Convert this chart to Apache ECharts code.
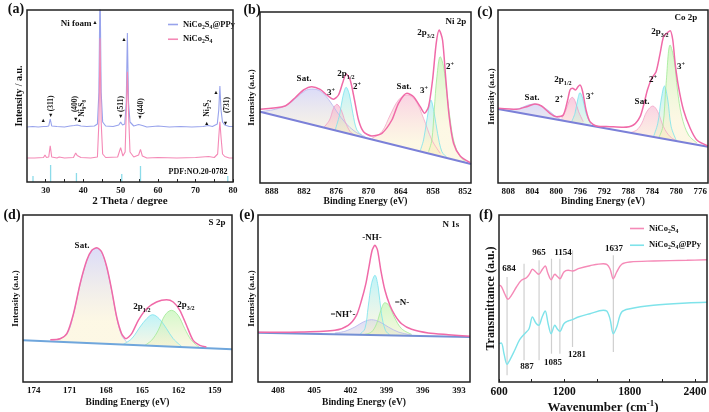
<!DOCTYPE html>
<html>
<head>
<meta charset="utf-8">
<script src="https://cdn.jsdelivr.net/npm/echarts@6/dist/echarts.min.js"></script>
<style>
  html, body { margin: 0; padding: 0; background: #fff; }
  #chart { width: 709px; height: 412px; }
</style>
</head>
<body>
<div id="chart"></div>
<script>
// ---- (a) XRD ----
const xrdPPy = [[25,55],[26.5,55.5],[28,55],[29.4,55.5],[29.8,57.5],[30.2,55.5],[30.8,56],[31.2,63],[31.6,56],[33,55.5],[35,55],[36.5,56],[37.6,56.5],[38,58],[38.4,57],[38.9,58],[39.4,56],[41,55.5],[43,56],[43.8,58],[44.2,90],[44.5,200],[44.8,90],[45.2,60],[46,56],[48,55.5],[49.5,57],[50,60],[50.5,57],[51.1,58],[51.5,80],[51.8,149],[52.1,80],[52.5,60],[53.5,56],[54.8,57.5],[55.3,59],[55.8,56.5],[57,55],[60,56],[63,55],[66,55.5],[69,55],[72,55.5],[73.4,56.5],[74.5,55.5],[75.8,58],[76.2,72],[76.5,96],[76.8,72],[77.2,60],[77.8,57],[79,55.5],[80,55.5]];
const xrdNCO = [[25,24],[27,24],[29.4,24.5],[29.8,27],[30.2,24.5],[30.8,25],[31.2,36.3],[31.6,25],[33,24],[33.6,25],[35,24],[37.4,24.5],[38,29],[38.4,26.5],[38.9,28],[39.4,24.5],[42,24],[43.8,25],[44.2,60],[44.5,143.7],[44.8,60],[45.2,28],[46,24.5],[49.2,25],[50,34.3],[50.6,26],[51.2,30],[51.5,70],[51.8,110.3],[52.1,70],[52.5,30],[53.5,25],[54.8,27],[55.3,32.7],[55.8,26],[57,24],[60,24.5],[65,24],[70,24.5],[73.5,25.5],[75,24.5],[75.9,28],[76.2,45],[76.5,60.3],[76.8,45],[77.2,28],[77.8,25.5],[79,24],[80,24]];
const pdfPos = [26.6, 31.3, 38.2, 50.3, 55.3, 78.6];
const pdfH = [6, 17, 9, 8, 16, 6];
const aLabels = [30, 40, 50, 60, 70, 80];
const aTicks = [30, 35, 40, 45, 50, 55, 60, 65, 70, 75, 80];

// ---- (b) Ni 2p ----
const niEnv = [[890.17,73.7],[885.52,77],[883.65,85.3],[882.10,93],[880.55,96.3],[879.0,93.7],[877.75,88],[876.51,83.7],[875.58,88],[874.83,99.7],[874.15,109],[873.40,103],[872.60,83],[871.85,63],[870.92,51.3],[869.37,47],[867.50,49.7],[865.64,63],[864.40,79.7],[862.84,89.7],[861.60,86.3],[860.36,76.3],[859.55,69.7],[858.81,76.3],[858.06,103],[857.38,139.7],[856.82,153],[856.20,143],[855.58,103],[854.96,66.3],[854.15,39.7],[852.91,27],[851.04,20.3]];
const niBase = [[890.2,71.3],[850.9,19]];
const niSatL = [[890.17,71.3],[887.38,73.7],[885.20,78],[883.34,85.7],[881.79,92.3],[880.55,94],[879.0,92],[877.44,83.7],[875.89,71.3],[874.33,60.3],[872.47,51.3],[870.6,46.3]];
const ni3L = [[878.37,55.3],[877.25,63],[876.51,74.7],[875.89,78.7],[875.08,73],[874.33,61.3],[873.40,51.3],[872.6,48]];
const ni2L = [[876.2,53],[875.39,68],[874.77,86.3],[874.15,95.7],[873.53,88],[872.91,69.7],[872.16,53],[871.23,48]];
const niSatR = [[869.37,44.7],[867.50,51.3],[865.95,68],[864.40,83],[862.84,88],[861.29,83],[859.74,64.7],[858.19,43],[856.63,29.7]];
const ni3R = [[860.36,32.3],[859.74,43],[859.12,63],[858.37,83],[857.75,69.7],[857.13,49.7],[856.32,31.3],[855.39,25.7]];
const ni2R = [[858.81,31.3],[858.19,43],[857.75,73],[857.25,106.3],[856.63,126.3],[856.01,116.3],[855.39,89.7],[854.77,63],[854.15,43],[853.22,29],[851.98,21.3]];
const bLabels = [888, 882, 876, 870, 864, 858, 852];
const bTicks = [888,885,882,879,876,873,870,867,864,861,858,855,852];

// ---- (c) Co 2p ----
const coEnv = [[809.67,74.7],[806.6,73.7],[804.94,76.3],[803.55,79],[802.44,77],[801.04,69.7],[799.93,66.3],[798.82,68],[798.09,83],[797.7,93],[797.26,94.7],[796.8,93],[796.37,96.3],[796.03,98],[795.59,91.3],[795.03,73],[794.37,61.3],[793.25,57],[791.03,56.3],[788.8,55.7],[787.13,58],[786.02,66.3],[785.35,79.7],[784.8,93],[784.07,104.7],[783.35,111.3],[782.68,129.7],[782.12,146.3],[781.57,149.7],[781.01,152.3],[780.57,143],[780.18,119.7],[779.62,96.3],[778.79,73],[777.67,54.7],[776.56,43],[774.7,37]];
const coBase = [[809.7,74],[774.7,36.3]];
const coSatL = [[807.72,73],[806.05,74.7],[804.66,78],[803.55,79],[802.44,77],[801.04,71.3],[799.65,64.7],[798.54,62.3]];
const co2L = [[799.1,64.7],[798.37,73],[797.82,82.3],[797.32,85.7],[796.81,81.3],[796.26,71.3],[795.48,61.3]];
const co3L = [[797.43,61.3],[796.87,69.7],[796.43,83],[796.03,90.3],[795.59,84.7],[795.03,69.7],[794.25,59]];
const coSatR = [[787.69,50.3],[786.58,53],[785.74,59.7],[784.91,71.3],[783.9,77],[783.07,71.3],[782.12,56.3],[781.01,46.3],[779.62,41.3]];
const co2R = [[783.79,46.3],[783.07,59.7],[782.51,83],[781.96,97],[781.4,83],[780.84,56.3],[780.01,43]];
const co3R = [[782.96,44.7],[782.23,56.3],[781.68,99.7],[781.01,138],[780.34,123],[779.79,93],[779.06,66.3],[777.95,48],[776.56,40.3]];
const cLabels = [808, 804, 800, 796, 792, 788, 784, 780, 776];
const cTicks = [808,806,804,802,800,798,796,794,792,790,788,786,784,782,780,778,776];

// ---- (d) S 2p ----
const sEnv = [[172.62,42.3],[171.80,43.3],[171.25,48.3],[170.70,68.3],[170.15,98.3],[169.60,121.7],[169.18,131.7],[168.77,134.3],[168.36,130],[167.94,115],[167.53,91.7],[167.12,65],[166.71,48.3],[166.35,43.3],[165.88,48.3],[165.33,61.7],[164.64,73.3],[163.82,80],[162.99,82.3],[162.44,80],[161.89,71.7],[161.34,56.7],[160.79,41.7],[160.24,36.7],[159.69,35]];
const sBase = [[174.88,41.7],[157.57,32.7]];
const sSat = [[172.07,42.3],[171.25,47.7],[170.70,67.7],[170.15,97.7],[169.60,121],[169.18,131],[168.77,133.7],[168.36,129.3],[167.94,114.3],[167.53,91],[167.12,64.3],[166.71,46.7],[166.29,40]];
const s12 = [[166.57,37.7],[165.88,43.3],[165.19,55],[164.64,63.3],[164.15,67.3],[163.6,63.3],[162.99,53.3],[162.44,43.3],[161.75,35.7]];
const s32 = [[164.92,35.7],[164.23,41.7],[163.68,51.7],[163.13,66.7],[162.58,71.7],[162.03,66.7],[161.48,53.3],[160.93,41.7],[160.24,34.3]];
const dLabels = [174, 171, 168, 165, 162, 159];
const dTicks = [174,172.5,171,169.5,168,166.5,165,163.5,162,160.5,159];

// ---- (e) N 1s ----
const nEnv = [[409.66,49.7],[406.06,50],[403.29,51.7],[402.19,56.7],[401.5,66.7],[401.08,81.7],[400.72,98.3],[400.44,116.7],[400.2,131.7],[399.97,136.7],[399.75,131.7],[399.48,111.7],[399.14,91.7],[398.73,76.7],[398.31,66.7],[397.76,58.3],[396.93,52.7],[395.55,49],[393.88,47.3],[392.09,45.7]];
const nBase = [[409.66,49.3],[392.09,45]];
const nNHp = [[403.29,49],[402.46,50.7],[401.63,55],[400.94,60],[400.25,62.3],[399.56,60],[398.86,55],[398.03,50],[396.93,47]];
const nNH = [[401.22,47.7],[400.8,53.3],[400.53,75],[400.25,98.3],[399.97,106.7],[399.7,95],[399.43,68.3],[399.1,51.7],[398.74,47]];
const nN = [[400.8,47.7],[400.25,50],[399.83,58.3],[399.48,71.7],[399.14,79.3],[398.81,76.7],[398.37,65],[397.76,53.3],[396.93,47.7]];
const eLabels = [408, 405, 402, 399, 396, 393];
const eTicks = [408,406.5,405,403.5,402,400.5,399,397.5,396,394.5,393];

// ---- (f) FTIR ----
const irNCO = [[600,96.7],[621,95.7],[652,88.3],[683,82.7],[714,86.7],[760,95],[806,101.7],[852,104.3],[882,108.3],[907,112.7],[938,110],[965,107.7],[996,112.3],[1024,116],[1048,109],[1079,102.3],[1113,107.7],[1134,105.7],[1159,103.3],[1196,110],[1235,111.7],[1275,111],[1328,113.3],[1435,116.3],[1558,118.3],[1589,117.7],[1619,113.3],[1650,103.3],[1681,110],[1727,117.7],[1803,120],[2018,121],[2325,121.7],[2510,122.3]];
const irPPy = [[600,38.3],[621,39],[646,28.3],[674,17.7],[698,21.7],[744,31.7],[790,42.3],[836,48.3],[876,53.3],[907,65],[938,59],[965,56.7],[996,65],[1024,71],[1051,58.3],[1079,48.3],[1113,56.7],[1134,53.3],[1159,50.7],[1196,58.3],[1235,61],[1275,62.3],[1328,65],[1435,68.3],[1558,71.7],[1589,71],[1619,63.3],[1650,48.3],[1681,55],[1727,70],[1803,73.3],[2018,76.7],[2325,79],[2510,79.7]];
const irLineX = [674, 830, 968, 1082, 1159, 1275, 1650];
const irLineTop = [105, 118.3, 121.7, 123.3, 123.3, 131.7, 126.7];
const irLineBot = [6.7, 21.7, 21.7, 28.3, 28.3, 35, 30];
const fLabels = [600, 1200, 1800, 2400];
const fTicks = [600, 900, 1200, 1500, 1800, 2100, 2400];

const FF = "'Liberation Serif', 'DejaVu Serif', serif";
const INK = '#111';

// rich styles for ECharts text (color) and zrender graphic text (fill)
function richE(size) {
  const b = { fontFamily: FF, fontWeight: 'bold', color: INK };
  return {
    m: Object.assign({}, b, { fontSize: size, lineHeight: size * 1.35 }),
    s: Object.assign({}, b, { fontSize: size * 0.68, verticalAlign: 'bottom' }),
    u: Object.assign({}, b, { fontSize: size * 0.68, verticalAlign: 'top' })
  };
}
function richZ(size) {
  const b = { fontFamily: FF, fontWeight: 'bold', fill: INK };
  return {
    m: Object.assign({}, b, { fontSize: size, lineHeight: size * 1.35 }),
    s: Object.assign({}, b, { fontSize: size * 0.68, verticalAlign: 'bottom' }),
    u: Object.assign({}, b, { fontSize: size * 0.68, verticalAlign: 'top' })
  };
}
function T(x, y, text, size, rot) {
  return { type: 'text', x: x, y: y, rotation: rot || 0, z: 100,
    style: { text: text, rich: richZ(size), fontFamily: FF, fontWeight: 'bold', fontSize: size,
      fill: INK, align: 'center', verticalAlign: 'middle' } };
}

// outerBoundsMode 'none' keeps each plot box exactly where it is placed
const grids = [
  { left: 27, top: 10, width: 206, height: 172 },
  { left: 260, top: 12, width: 211, height: 171 },
  { left: 498, top: 10, width: 210, height: 173 },
  { left: 23, top: 215, width: 209, height: 167 },
  { left: 258, top: 215, width: 212, height: 167 },
  { left: 499, top: 215, width: 208, height: 167 }
].map(g => Object.assign(g, { show: true, borderColor: '#222', borderWidth: 1.5, backgroundColor: 'transparent',
  z: 10, containLabel: false, outerBoundsMode: 'none' }));

function xAx(gi, min, max, inv, labels, ticks, fs, name, nameGap, nameFs) {
  return {
    type: 'value', gridIndex: gi, min: min, max: max, inverse: inv,
    name: name, nameLocation: 'middle', nameGap: nameGap,
    nameTextStyle: { fontFamily: FF, fontWeight: 'bold', fontSize: nameFs, color: INK, rich: richE(nameFs) },
    axisLine: { show: false }, splitLine: { show: false },
    axisTick: { show: true, inside: true, length: 3, customValues: ticks, lineStyle: { color: '#222', width: 1 } },
    axisLabel: { customValues: labels, formatter: v => String(v), fontFamily: FF, fontWeight: 'bold', fontSize: fs, color: INK, margin: 4 }
  };
}
function yAx(gi, max, name, nameGap, nameFs) {
  return {
    type: 'value', gridIndex: gi, min: 0, max: max,
    name: name, nameLocation: 'middle', nameGap: nameGap, nameRotate: 90,
    nameTextStyle: { fontFamily: FF, fontWeight: 'bold', fontSize: nameFs, color: INK },
    axisLine: { show: false }, axisTick: { show: false }, axisLabel: { show: false }, splitLine: { show: false }
  };
}

const BE = '{m|Binding Energy (eV)}';
const xAxes = [
  xAx(0, 25, 80, false, aLabels, aTicks, 9, '{m|2 Theta / degree}', 8, 11),
  xAx(1, 850.9, 890.2, true, bLabels, bTicks, 9, BE, 11, 9.5),
  xAx(2, 774.7, 809.7, true, cLabels, cTicks, 9, BE, 11, 9.5),
  xAx(3, 157.57, 174.88, true, dLabels, dTicks, 9, BE, 14, 9.5),
  xAx(4, 392.09, 409.66, true, eLabels, eTicks, 9, BE, 14, 9.5),
  xAx(5, 600, 2510, false, fLabels, fTicks, 11.5, '{m|Wavenumber (cm}{u|-1}{m|)}', 13, 13)
];
const yAxes = [
  yAx(0, 172, 'Intensity / a.u.', 3, 10),
  yAx(1, 171, 'Intensity (a.u.)', 4, 9),
  yAx(2, 173, 'Intensity (a.u.)', 2, 9),
  yAx(3, 167, 'Intensity (a.u.)', 3, 9),
  yAx(4, 167, 'Intensity (a.u.)', 2, 9),
  yAx(5, 167, 'Transmittance (a.u.)', 2, 12)
];

const PAL = {
  lav:   ['rgba(196,196,244,0.85)', '#b4b4ee'],
  pink:  ['rgba(246,168,204,0.85)', '#f39cc6'],
  cyan:  ['rgba(140,234,244,0.8)', '#78e2ee'],
  green: ['rgba(180,244,166,0.85)', '#9fea96'],
  satr:  ['rgba(246,176,206,0.8)', '#f4a6c8']
};
function comp(data, gi, key) {
  const p = PAL[key];
  return {
    type: 'line', xAxisIndex: gi, yAxisIndex: gi, data: data, smooth: 0.35,
    symbol: 'none', z: 2, lineStyle: { color: p[1], width: 0.8 },
    areaStyle: { origin: 'start', color: { type: 'linear', x: 0, y: 0, x2: 0, y2: 1,
      colorStops: [{ offset: 0, color: p[0] }, { offset: 0.55, color: 'rgba(250,238,192,0.6)' }, { offset: 1, color: 'rgba(250,238,192,0.6)' }] } }
  };
}
function base(data, gi, color) {
  return { type: 'line', xAxisIndex: gi, yAxisIndex: gi, data: data, symbol: 'none', z: 3,
    lineStyle: { color: color, width: 2 }, areaStyle: { origin: 'start', color: '#fff', opacity: 1 } };
}
function env(data, gi) {
  return { type: 'line', xAxisIndex: gi, yAxisIndex: gi, data: data, smooth: 0.25,
    symbol: 'none', z: 4, lineStyle: { color: '#f06aa8', width: 1.5 } };
}

const series = [
  // (a)
  { type: 'custom', xAxisIndex: 0, yAxisIndex: 0, z: 2,
    data: pdfPos.map((x, i) => [x, pdfH[i]]),
    renderItem: function (params, api) {
      const p0 = api.coord([api.value(0), 0]);
      const p1 = api.coord([api.value(0), api.value(1)]);
      return { type: 'line', shape: { x1: p0[0], y1: p0[1], x2: p1[0], y2: p1[1] }, style: { stroke: '#8cdbe9', lineWidth: 1.3 } };
    } },
  { name: 'xrdPPy', type: 'line', xAxisIndex: 0, yAxisIndex: 0, data: xrdPPy, symbol: 'none', z: 3,
    lineStyle: { color: '#98a3ec', width: 1.1 }, itemStyle: { color: '#98a3ec' } },
  { name: 'xrdNCO', type: 'line', xAxisIndex: 0, yAxisIndex: 0, data: xrdNCO, symbol: 'none', z: 3,
    lineStyle: { color: '#f489b6', width: 1.1 }, itemStyle: { color: '#f489b6' } },
  // (b)
  comp(niSatL, 1, 'lav'), comp(ni3L, 1, 'pink'), comp(ni2L, 1, 'cyan'),
  comp(niSatR, 1, 'satr'), comp(ni3R, 1, 'cyan'), comp(ni2R, 1, 'green'),
  base(niBase, 1, '#7b80d8'), env(niEnv, 1),
  // (c)
  comp(coSatL, 2, 'lav'), comp(co2L, 2, 'pink'), comp(co3L, 2, 'cyan'),
  comp(coSatR, 2, 'satr'), comp(co2R, 2, 'cyan'), comp(co3R, 2, 'green'),
  base(coBase, 2, '#7b80d8'), env(coEnv, 2),
  // (d)
  comp(sSat, 3, 'lav'), comp(s12, 3, 'cyan'), comp(s32, 3, 'green'),
  base(sBase, 3, '#6fa6dc'), env(sEnv, 3),
  // (e)
  comp(nNHp, 4, 'lav'), comp(nNH, 4, 'cyan'), comp(nN, 4, 'green'),
  base(nBase, 4, '#7590d4'), env(nEnv, 4),
  // (f)
  { type: 'custom', xAxisIndex: 5, yAxisIndex: 5, z: 2,
    data: irLineX.map((x, i) => [x, irLineTop[i], irLineBot[i]]),
    encode: { x: 0, y: [1, 2] },
    renderItem: function (params, api) {
      const p0 = api.coord([api.value(0), api.value(1)]);
      const p1 = api.coord([api.value(0), api.value(2)]);
      return { type: 'line', shape: { x1: p0[0], y1: p0[1], x2: p1[0], y2: p1[1] }, style: { stroke: '#cfcfcf', lineWidth: 1.2 } };
    } },
  { name: 'irNCO', type: 'line', xAxisIndex: 5, yAxisIndex: 5, data: irNCO, smooth: 0.35, symbol: 'none', z: 3,
    lineStyle: { color: '#f58ab7', width: 1.4 }, itemStyle: { color: '#f58ab7' } },
  { name: 'irPPy', type: 'line', xAxisIndex: 5, yAxisIndex: 5, data: irPPy, smooth: 0.35, symbol: 'none', z: 3,
    lineStyle: { color: '#7fe3ea', width: 1.4 }, itemStyle: { color: '#7fe3ea' } }
];

const LEG = {
  xrdPPy: '{m|NiCo}{s|2}{m|S}{s|4}{m|@PPy}',
  xrdNCO: '{m|NiCo}{s|2}{m|S}{s|4}',
  irNCO: '{m|NiCo}{s|2}{m|S}{s|4}',
  irPPy: '{m|NiCo}{s|2}{m|S}{s|4}{m|@PPy}'
};
function legend(names, left, top, iw, gap) {
  return { data: names, orient: 'vertical', left: left, top: top, itemWidth: iw, itemHeight: 1.6, itemGap: gap,
    icon: 'rect', formatter: n => LEG[n], selectedMode: false,
    textStyle: { fontFamily: FF, fontWeight: 'bold', fontSize: 8.5, color: INK, rich: richE(8.5) } };
}

const SAT = '{m|Sat.}', P12 = '{m|2p}{s|1/2}', P32 = '{m|2p}{s|3/2}', S3 = '{m|3}{u|+}', S2 = '{m|2}{u|+}';
const V = Math.PI / 2;
const graphic = [
  // panel letters
  T(16, 9, '{m|(a)}', 14), T(252, 10, '{m|(b)}', 14), T(485, 12, '{m|(c)}', 14),
  T(12, 215, '{m|(d)}', 14), T(247, 215, '{m|(e)}', 14), T(486, 215, '{m|(f)}', 14),
  // (a)
  T(76, 24, '{m|Ni foam}', 9), T(95, 23, '▲', 5.5), T(124, 40, '▲', 5.5),
  T(43.3, 120.7, '▲', 5.5), T(50.7, 115.3, '▼', 5.5), T(50.7, 103.3, '{m|(311)}', 7.5, V),
  T(75.7, 120, '▼', 5.5), T(79.5, 120.7, '▲', 5.5), T(75.2, 104, '{m|(400)}', 7.5, V),
  T(82, 108.3, '{m|Ni}{s|9}{m|S}{s|8}', 7.5, V),
  T(120.7, 116.7, '▼', 5.5), T(120.7, 104, '{m|(511)}', 7.5, V),
  T(140, 117.3, '▼', 5.5), T(140.7, 106.3, '{m|(440)}', 7.5, V),
  T(206.7, 123.3, '▲', 5.5), T(206.7, 108.3, '{m|Ni}{s|3}{m|S}{s|2}', 7.5, V),
  T(216, 92.7, '▲', 5.5),
  T(225.5, 123.3, '▼', 5.5), T(227.3, 105, '{m|(731)}', 7.5, V),
  T(198, 172, '{m|PDF:NO.20-0782}', 8),
  // (b)
  T(456, 22, '{m|Ni 2p}', 9), T(304, 79, SAT, 9), T(331, 93, S3, 9), T(346, 74, P12, 9),
  T(357, 87, S2, 9), T(404, 87, SAT, 9), T(424, 91, S3, 9), T(426, 33, P32, 9), T(450, 67, S2, 9),
  // (c)
  T(686, 18, '{m|Co 2p}', 9), T(660, 32, P32, 9), T(681, 67, S3, 9), T(653, 80, S2, 9),
  T(642, 102, SAT, 9), T(563, 80, P12, 9), T(559, 100, S2, 9), T(590, 97, S3, 9), T(532, 98, SAT, 9),
  // (d)
  T(217, 223, '{m|S 2p}', 9), T(82, 246, SAT, 9), T(142, 307, P12, 9), T(186, 305, P32, 9),
  // (e)
  T(451, 225, '{m|N 1s}', 9), T(372, 238, '{m|-NH-}', 9), T(402, 303, '{m|=N-}', 9),
  T(343, 315, '{m|=NH}{u|+}{m|-}', 9),
  // (f)
  T(509, 269, '{m|684}', 9), T(527, 367, '{m|887}', 9), T(539, 253, '{m|965}', 9),
  T(553, 363, '{m|1085}', 9), T(563, 253, '{m|1154}', 9), T(577, 355, '{m|1281}', 9), T(614, 249, '{m|1637}', 9)
];

const chart = echarts.init(document.getElementById('chart'), null, { renderer: 'canvas' });
chart.setOption({
  animation: false,
  backgroundColor: '#fff',
  textStyle: { fontFamily: FF, fontWeight: 'bold', color: INK },
  grid: grids,
  xAxis: xAxes,
  yAxis: yAxes,
  legend: [legend(['xrdPPy', 'xrdNCO'], 163, 15, 10, 4.5), legend(['irNCO', 'irPPy'], 625, 219, 14, 6.5)],
  series: series,
  graphic: graphic
});
</script>
</body>
</html>
